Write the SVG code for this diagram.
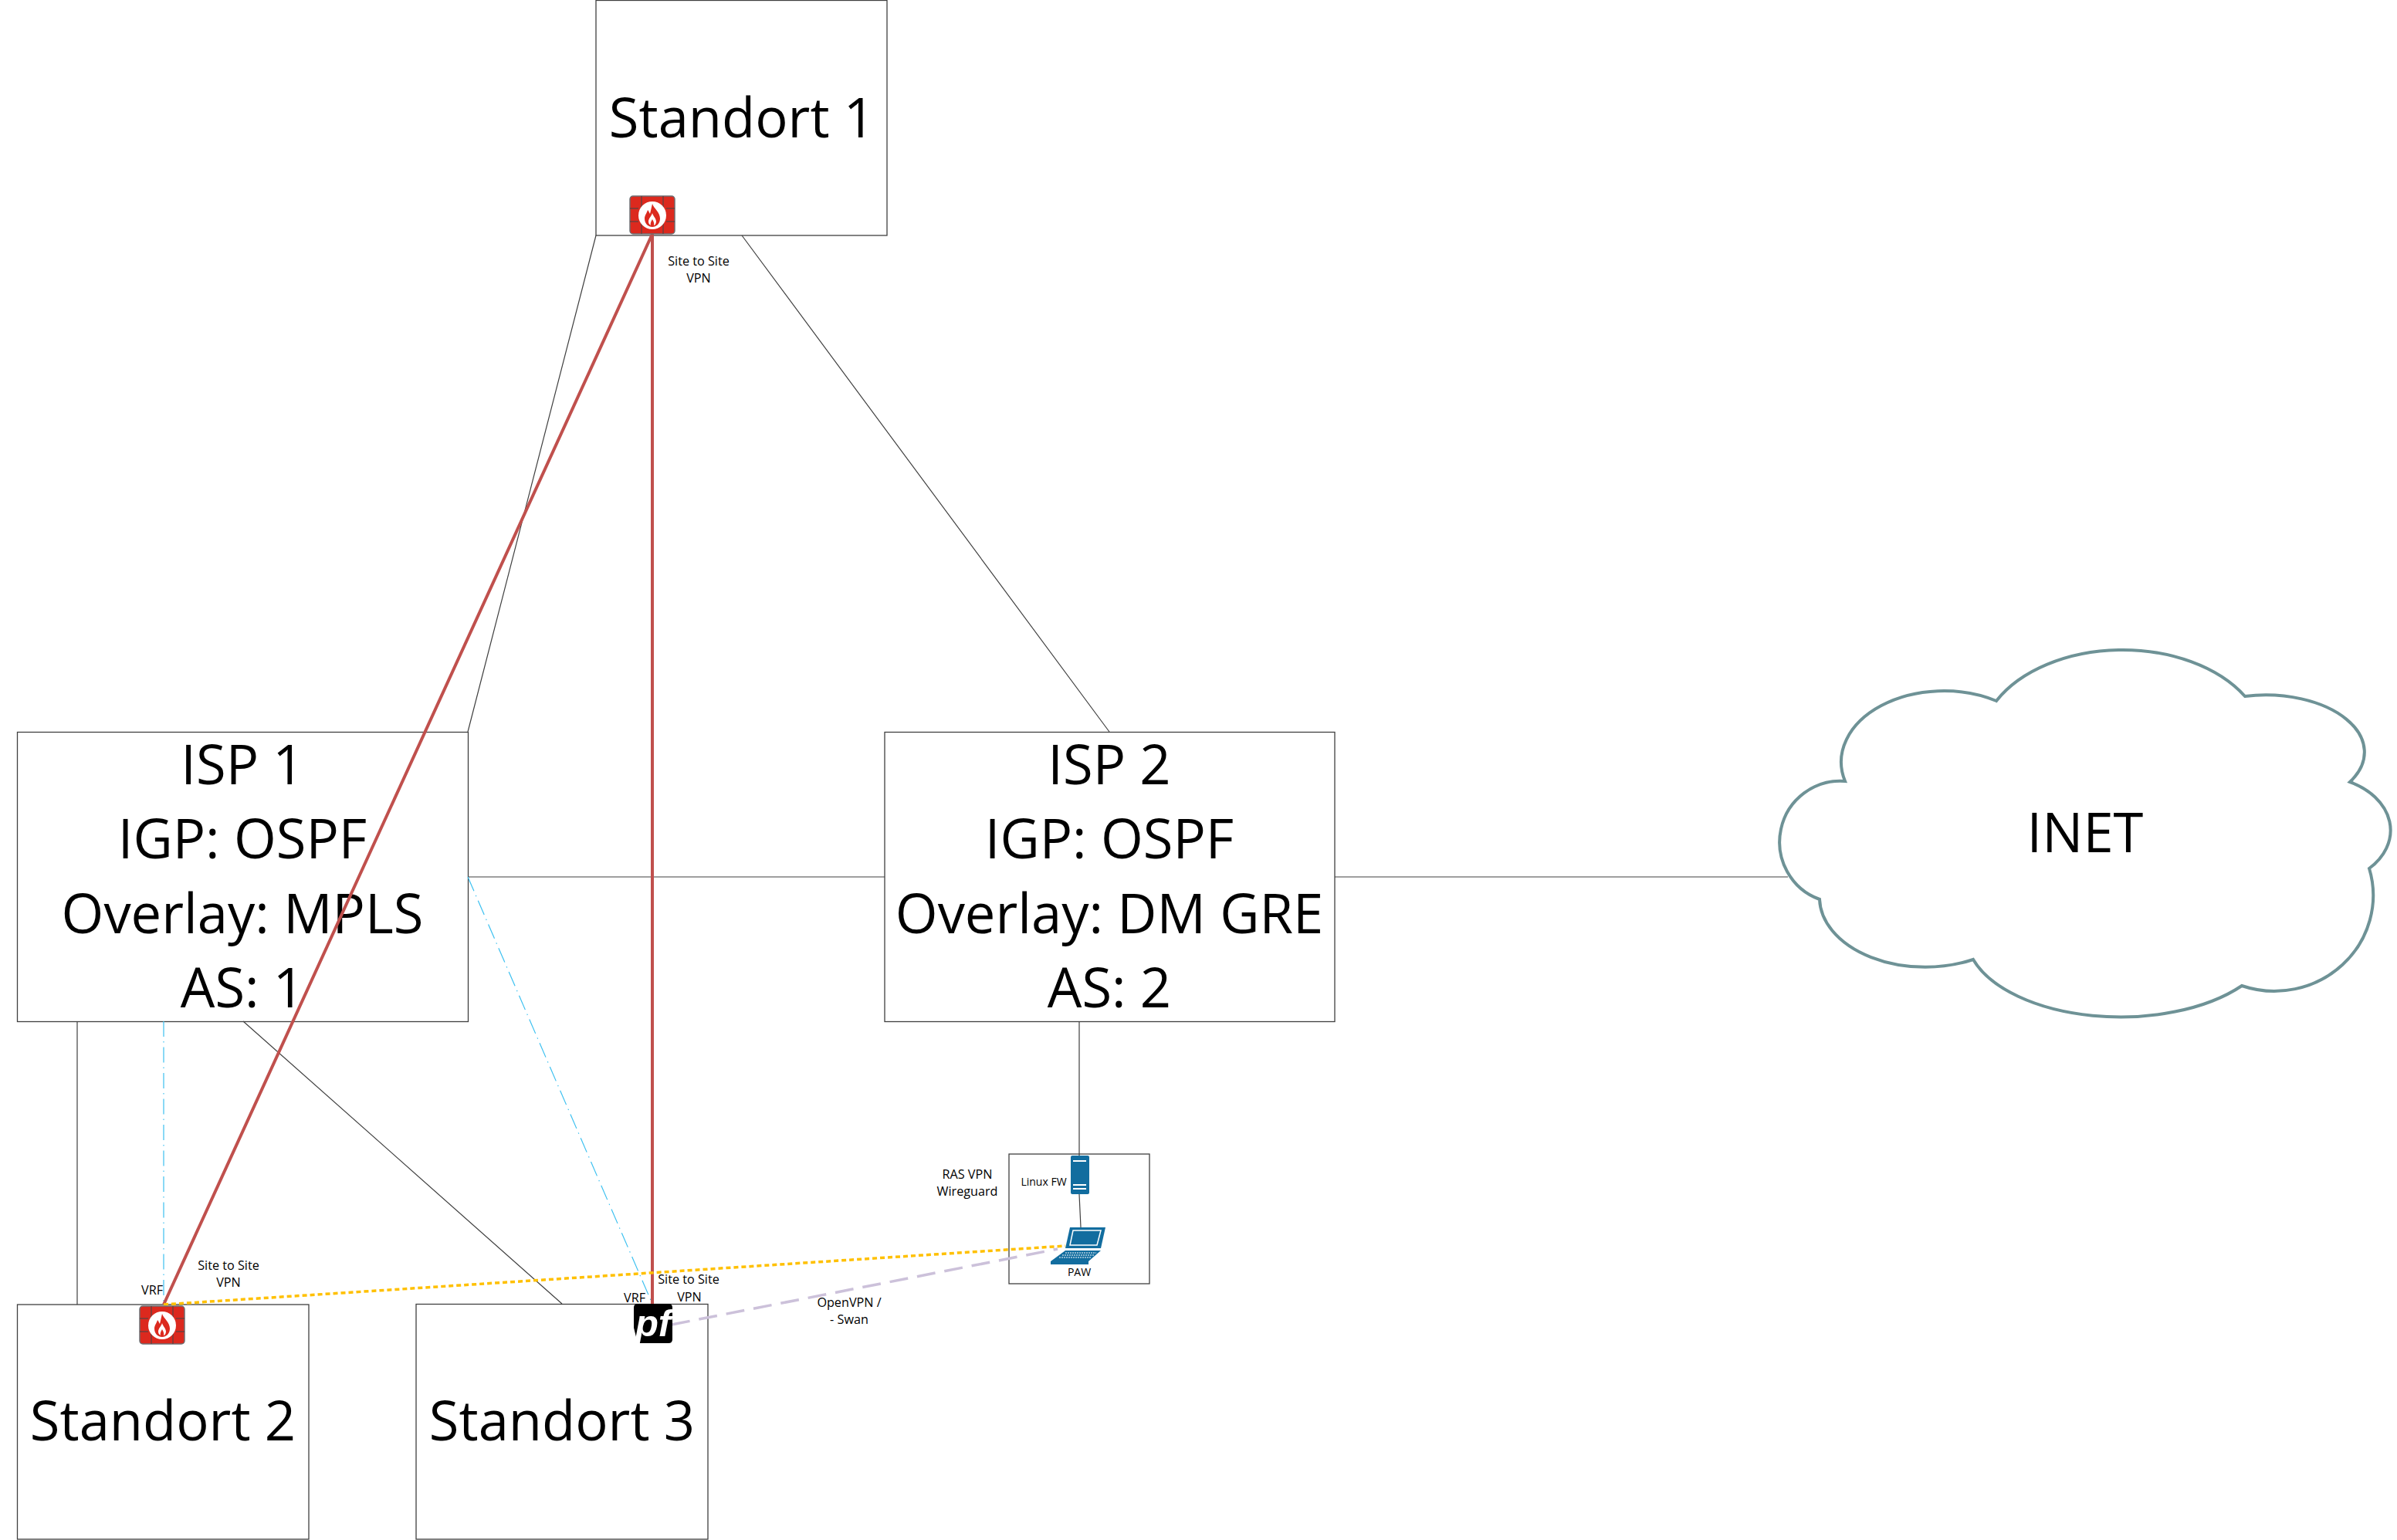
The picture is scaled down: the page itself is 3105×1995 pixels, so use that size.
<svg xmlns="http://www.w3.org/2000/svg" width="3105" height="1995" viewBox="0 0 3105 1995">
<style>
text{font-family:"Open Sans","Noto Sans","Liberation Sans",sans-serif;fill:#000;text-anchor:middle}
.big{font-size:70.500px}
.sm{font-size:16.200px}
.xs{font-size:14px}
.box{fill:#fff;stroke:#404040;stroke-width:1.3}
.thin{fill:none;stroke:#404040;stroke-width:1.2}
.blue{fill:none;stroke:#3cc0f0;stroke-width:1.2;stroke-dasharray:20 6 1.500 6}
.red{fill:none;stroke:#c0504d;stroke-width:4}
.org{fill:none;stroke:#ffc000;stroke-width:3.500;stroke-dasharray:6 4}
.pur{fill:none;stroke:#ccc1da;stroke-width:3.500;stroke-dasharray:24 12}
.fwb{fill:#dc291e;stroke:#6d6e71;stroke-width:1.500}
.fwl{stroke:#6d3f3c;stroke-width:1.500;fill:none}
.ico{fill:#126d9f}
.icl{fill:#fff}
</style>
<defs>
<g id="fw">
<rect class="fwb" x="0" y="0" width="58" height="49" rx="4"/>
<path class="fwl" d="M15 0V16M43 0V16M15 33V49M43 33V49M0 16H11M47 16H58M0 33H11M47 33H58"/>
<circle cx="29" cy="25" r="18" fill="#fff"/>
<path d="M29 10C31 16 39 21 39 29C39 36 34 40 29 40C24 40 19 36 19 29C19 25 22 22 23 18C25 20 25 22 26 23C27 19 28 14 29 10Z" fill="#dc291e"/>
<path d="M29 22C30 26 34 29 34 33C34 36 32 38 31 38C32 35 30 32 29 30C28 32 26 35 27 38C25 37 24 35 24 33C24 29 28 26 29 22Z" fill="#fff"/>
</g>
</defs>
<g id="node-standort1"><rect class="box" x="772" y="0.500" width="377" height="304.500"/><text class="big" x="961" y="178">Standort 1</text></g>
<g id="node-isp1"><rect class="box" x="22.500" y="948.500" width="584" height="375"/><text class="big" x="314" y="1016">ISP 1</text><text class="big" x="314" y="1112">IGP: OSPF</text><text class="big" x="314" y="1209">Overlay: MPLS</text><text class="big" x="314" y="1305">AS: 1</text></g>
<g id="node-isp2"><rect class="box" x="1146" y="948.500" width="583" height="375"/><text class="big" x="1437" y="1016">ISP 2</text><text class="big" x="1437" y="1112">IGP: OSPF</text><text class="big" x="1437" y="1209">Overlay: DM GRE</text><text class="big" x="1437" y="1305">AS: 2</text></g>
<g id="node-standort2"><rect class="box" x="22.500" y="1690" width="377.500" height="304"/><text class="big" x="211" y="1866">Standort 2</text></g>
<g id="node-standort3"><rect class="box" x="539" y="1689.500" width="378" height="304.500"/><text class="big" x="728" y="1866">Standort 3</text></g>
<g id="node-inet"><path d="M2390 1012A133 92 0 0 1 2586 908A185 124 0 0 1 2908 902A128 74 0 0 1 3044 1013A95 70 0 0 1 3069 1125A128 124 0 0 1 2904 1277A200 106 0 0 1 2556 1243A137 90 0 0 1 2357 1165A78.700 79 0 0 1 2390 1012Z" fill="#fff" stroke="#6e9296" stroke-width="4"/><text class="big" x="2701" y="1104">INET</text></g>
<g id="node-paw-box"><rect class="box" x="1307" y="1495" width="182" height="168"/></g>
<g id="connectors">
<path class="thin" d="M772 305L606 948M961 305L1437 948M606 1136H1146M1729 1136H2316M1398 1323V1497M1398 1547L1400 1590M100 1323V1690M315 1323L728 1689"/>
<path class="blue" d="M212 1323V1690M606 1136L845 1689"/>
<path class="red" d="M845 303L212 1690M845 303V1689"/>
<path class="org" d="M212 1690L1380 1614"/>
<path class="pur" d="M870 1716L1370 1618"/>
</g>
<g id="node-fw1"><use href="#fw" x="816" y="254"/></g>
<g id="node-fw2"><use href="#fw" x="181" y="1692"/></g>
<g id="node-pf"><path d="M826 1689H866Q871 1689 871 1694V1735Q871 1740 866 1740H826L821 1720V1694Q821 1689 826 1689Z" fill="#000"/><text x="846" y="1731" style="font-family:'Liberation Sans',sans-serif;font-weight:700;font-style:italic;font-size:49px;fill:#fff">pf</text></g>
<g id="node-linux-fw"><rect class="ico" x="1387" y="1497" width="24" height="50" rx="2"/><rect class="icl" x="1390" y="1503" width="17" height="2"/><rect class="icl" x="1390" y="1534" width="17" height="2"/><rect class="icl" x="1390" y="1539" width="17" height="2"/><text class="xs" x="1352" y="1536">Linux FW</text></g>
<g id="node-laptop"><path class="ico" d="M1386 1590H1432L1426 1617H1380Z"/><path d="M1390 1594H1426L1421 1613H1386Z" fill="none" stroke="#fff" stroke-width="1.500"/><path class="ico" d="M1380 1620H1426L1410 1634V1638H1361V1634Z"/><path d="M1380 1623H1420M1376 1626H1417M1372 1629H1413" stroke="#fff" stroke-width="1" stroke-dasharray="2 1"/><text class="xs" x="1398" y="1653">PAW</text></g>
<g id="labels">
<text class="sm" x="905" y="344">Site to Site</text><text class="sm" x="905" y="366">VPN</text>
<text class="sm" x="296" y="1645">Site to Site</text><text class="sm" x="296" y="1667">VPN</text>
<text class="sm" x="197" y="1677">VRF</text>
<text class="sm" x="892" y="1663">Site to Site</text><text class="sm" x="893" y="1686">VPN</text>
<text class="sm" x="822" y="1687">VRF</text>
<text class="sm" x="1100" y="1693">OpenVPN /</text><text class="sm" x="1100" y="1715">- Swan</text>
<text class="sm" x="1253" y="1527">RAS VPN</text><text class="sm" x="1253" y="1549">Wireguard</text>
</g>
</svg>
